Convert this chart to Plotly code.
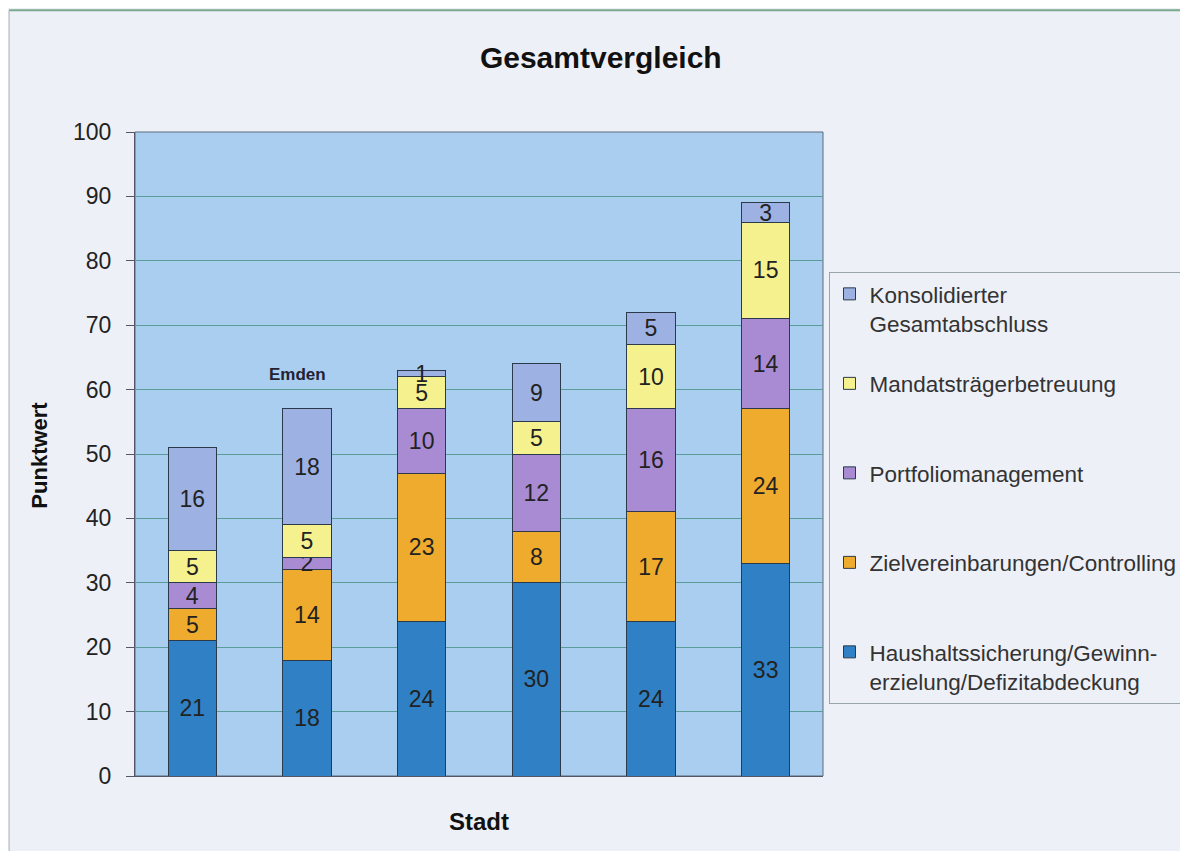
import plotly.graph_objects as go

cities = ["Stadt 1", "Emden", "Stadt 3", "Stadt 4", "Stadt 5", "Stadt 6"]
series_names = [
    "Haushaltssicherung/Gewinn-<br>erzielung/Defizitabdeckung",
    "Zielvereinbarungen/Controlling<br>\u00a0",
    "Portfoliomanagement<br>\u00a0",
    "Mandatsträgerbetreuung<br>\u00a0",
    "Konsolidierter<br>Gesamtabschluss",
]
haushalt = [21, 18, 24, 30, 24, 33]
ziel = [5, 14, 23, 8, 17, 24]
portfolio = [4, 2, 10, 12, 16, 14]
mandat = [5, 5, 5, 5, 10, 15]
konsolidiert = [16, 18, 1, 9, 5, 3]
colors = ["#2f80c4", "#efab2e", "#a98bd3", "#f4f18e", "#9eb1e3"]
y_ticks = [0, 10, 20, 30, 40, 50, 60, 70, 80, 90, 100]

values = [haushalt, ziel, portfolio, mandat, konsolidiert]
FONT = "Liberation Sans, Arial, sans-serif"

fig = go.Figure()
for i, (name, vals, col) in enumerate(zip(series_names, values, colors)):
    fig.add_trace(go.Bar(
        x=cities, y=vals, name=name,
        marker=dict(color=col, line=dict(color="#2a3a4a", width=1)),
        text=[str(v) for v in vals], textposition="inside",
        insidetextanchor="middle", textangle=0,
        textfont=dict(family=FONT, size=23, color="#222"),
        legendgroup=f"g{i}", legendrank=10 - i, width=0.42,
    ))

fig.add_annotation(x="Emden", y=62.3, text="<b>Emden</b>", showarrow=False, xshift=-10,
                   font=dict(family=FONT, size=17, color="#223"))
fig.add_annotation(xref="paper", yref="paper", x=0.5, y=-0.0714, text="<b>Stadt</b>",
                   showarrow=False, xanchor="center", yanchor="middle",
                   font=dict(family=FONT, size=24, color="#111"))
fig.add_annotation(xref="paper", yref="paper", x=-0.139, y=0.498, text="<b>Punktwert</b>",
                   showarrow=False, textangle=-90, xanchor="center", yanchor="middle",
                   font=dict(family=FONT, size=22, color="#111"))

fig.update_layout(
    barmode="stack",
    width=1188, height=851,
    margin=dict(l=127, r=373, t=124, b=83, autoexpand=False),
    paper_bgcolor="#eef0f8",
    plot_bgcolor="#a9cef0",
    uniformtext=dict(minsize=23, mode="show"),
    title=dict(text="<b>Gesamtvergleich</b>", x=0.499, xanchor="center", y=0.942, yanchor="middle",
               font=dict(family=FONT, size=30, color="#111")),
    font=dict(family=FONT, color="#222"),
    legend=dict(
        x=1.008, y=0.783, xanchor="left", yanchor="top",
        traceorder="grouped", tracegroupgap=28, valign="top", itemwidth=30,
        bordercolor="#9aa6a6", borderwidth=1, bgcolor="rgba(0,0,0,0)",
        font=dict(family=FONT, size=22.5, color="#333"),
    ),
    xaxis=dict(showticklabels=False, ticks="", showgrid=False,
               showline=True, linecolor="#556", linewidth=1),
    yaxis=dict(range=[0, 100], tickvals=y_ticks, showgrid=True,
               gridcolor="#5a9c98", gridwidth=1, zeroline=False,
               ticks="outside", ticklen=8, tickcolor="#556", ticklabelstandoff=10,
               showline=True, linecolor="#556",
               tickfont=dict(family=FONT, size=23, color="#222")),
)

# outer frame lines
fig.add_shape(type="line", xref="paper", yref="paper", x0=-0.183, x1=1.6, y0=1.189, y1=1.189,
              line=dict(color="#7aa88a", width=2))
fig.add_shape(type="line", xref="paper", yref="paper", x0=-0.183, x1=-0.183, y0=-0.14, y1=1.189,
              line=dict(color="#b0b4bc", width=1))
fig.add_shape(type="rect", xref="paper", yref="paper", x0=0, x1=1, y0=0, y1=1,
              line=dict(color="#5a6a7a", width=1), layer="below", fillcolor="rgba(0,0,0,0)")

fig.write_html("out.html")
